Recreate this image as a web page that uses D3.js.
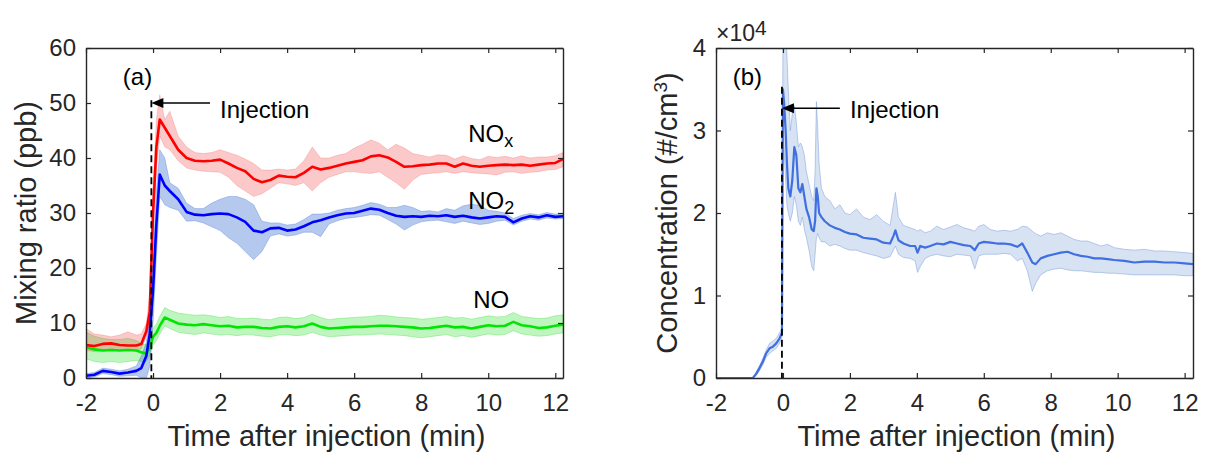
<!DOCTYPE html>
<html>
<head>
<meta charset="utf-8">
<script src="https://cdn.jsdelivr.net/npm/d3@7"></script>
<style>
  html, body { margin: 0; padding: 0; background: #ffffff; }
  svg { display: block; font-family: "Liberation Sans", Arial, Helvetica, sans-serif; }
</style>
</head>
<body>
<svg id="chart" width="1205" height="452"></svg>
<script>
// ---------------- Panel (a) data: mixing ratios (ppb) ----------------
const timeA = [-2, -1.75, -1.5, -1.25, -1, -0.75, -0.5, -0.35, -0.2, -0.1, 0, 0.1, 0.2, 0.35, 0.5, 0.75,
  1, 1.25, 1.5, 1.75, 2, 2.25, 2.5, 2.75, 3, 3.25, 3.5, 3.75, 4, 4.25, 4.5, 4.75, 5, 5.25, 5.5, 5.75,
  6, 6.25, 6.5, 6.75, 7, 7.25, 7.5, 7.75, 8, 8.25, 8.5, 8.75, 9, 9.25, 9.5, 9.75, 10, 10.25, 10.5, 10.75,
  11, 11.25, 11.5, 11.75, 12, 12.23];

const noxMean = [6.0, 5.8, 6.2, 6.3, 6.0, 5.9, 5.9, 6.2, 8.5, 12, 30, 42, 47, 45.5, 44, 41.5,
  40, 39.5, 39.4, 39.5, 39.7, 39.0, 38.2, 37.6, 36.2, 35.6, 36.0, 36.8, 36.6, 36.5, 37.3, 38.4, 37.9, 38.2, 38.6, 39.0,
  39.3, 39.6, 40.3, 40.5, 40.1, 39.3, 38.4, 38.5, 38.7, 38.8, 39.0, 39.0, 38.4, 39.0, 38.6, 38.4, 38.6, 38.7, 38.8, 38.7,
  38.8, 38.6, 38.8, 39.0, 39.1, 39.8];
const noxLow = [5.0, 4.8, 5.0, 5.3, 5.0, 5.0, 5.0, 5.3, 7.5, 10, 26, 38, 44, 42, 41.5, 39.5,
  38.2, 37.8, 37.6, 37.5, 37.4, 36.5, 35, 34, 33, 33.5, 34.5, 35.5, 35.3, 35, 35.5, 34, 35.5, 36.5, 37, 37.5,
  37.5, 37.3, 37.2, 37.5, 36.5, 35.5, 34.3, 36, 37, 37.2, 37.3, 37.5, 37.2, 37.5, 37.3, 37.2, 37.1, 36.9, 37.4, 37.5,
  37.2, 37.4, 37.5, 37.8, 37.9, 38.4];
const noxHigh = [9.0, 8.0, 7.8, 7.5, 7.8, 8.4, 7.8, 8.0, 10, 15, 35, 47, 51.5, 47, 48.5, 44,
  42, 41, 40.8, 41, 41.5, 41, 40.5, 39.8, 39, 37.8, 37.8, 38, 37.8, 38, 39.5, 42, 40, 40, 40.5, 40.8,
  41.8, 42.5, 43.3, 42.7, 41.5, 42.5, 41.8, 40.8, 40.5, 40.2, 40.6, 40.5, 39.8, 40.4, 39.9, 39.7, 40.3, 40.1, 40.3, 40,
  40.4, 40, 40.2, 40.2, 40.4, 41.0];

const no2Mean = [0.4, 0.6, 1.3, 1.1, 0.8, 1.0, 1.3, 1.8, 4, 8, 16, 28, 37, 35, 34, 32.5,
  30.2, 29.7, 29.6, 29.8, 29.9, 29.8, 29.2, 28.4, 26.8, 26.5, 27.2, 27.3, 26.8, 27.0, 27.6, 28.3, 28.7, 29.2, 29.6, 29.9,
  30.0, 30.4, 30.8, 30.6, 30.0, 29.5, 29.3, 29.4, 29.3, 29.5, 29.4, 29.6, 29.3, 29.5, 29.2, 29.0, 29.2, 29.4, 29.3, 28.3,
  29.0, 29.4, 29.2, 29.6, 29.3, 29.4];
const no2Low = [0, 0.2, 0.8, 0.6, 0.3, 0.4, 0.5, 0, 0, 2, 10, 22, 33, 31.5, 31, 30.5,
  28.5, 28.6, 28.2, 27.5, 26.8, 25.5, 24.5, 23, 21.5, 23, 25.8, 26.2, 25.8, 26, 26.5, 26.5, 25.7, 28, 28.6, 29,
  29.2, 29.4, 29.7, 29.6, 28.8, 28, 26.9, 27.8, 28.4, 28.6, 28.7, 28.4, 28.1, 28.5, 28.2, 27.9, 28.1, 28.5, 28.7, 27.8,
  28.5, 28.9, 28.7, 29.1, 28.9, 29.0];
const no2High = [0.8, 1.0, 1.8, 1.6, 1.3, 1.6, 2.2, 4, 6.5, 12, 22, 34, 41.5, 40, 35.5, 34.5,
  31.8, 30.8, 30.8, 31.8, 32.5, 33, 33, 32.5, 31.5, 28.5, 28.2, 28.2, 27.8, 28, 28.8, 29.8, 29.8, 30, 30.5, 30.8,
  31, 31.4, 31.9, 31.6, 31, 31, 31.4, 31, 30.3, 30.4, 30.2, 30.8, 30.5, 31.3, 31.6, 31.4, 30.5, 30.3, 30, 29,
  29.6, 29.9, 29.7, 30.1, 29.8, 29.9];

const noMean = [5.6, 5.2, 5.0, 5.1, 5.0, 5.1, 5.0, 4.7, 4.4, 5.5, 7.5, 8.2, 9.5, 11.0, 10.6, 9.9,
  9.7, 9.6, 9.8, 9.6, 9.4, 9.5, 9.2, 9.3, 9.3, 9.1, 9.0, 9.3, 9.4, 9.2, 9.4, 9.9, 9.3, 9.0, 9.1, 9.2,
  9.3, 9.3, 9.4, 9.5, 9.5, 9.4, 9.3, 9.2, 9.0, 9.1, 9.3, 9.5, 9.2, 9.3, 9.0, 9.3, 9.6, 9.4, 9.5, 10.2,
  9.6, 9.4, 9.1, 9.2, 9.5, 9.7];
const noLow = [3.5, 3.0, 2.8, 3.0, 2.8, 3.0, 3.2, 3.0, 3.0, 4.0, 6.0, 6.8, 8.0, 9.5, 9.0, 8.3,
  8.1, 7.9, 8.2, 8.0, 7.8, 7.9, 7.7, 7.9, 7.8, 7.6, 7.5, 7.8, 7.9, 7.7, 7.8, 8.3, 7.8, 7.5, 7.6, 7.7,
  7.8, 7.8, 7.9, 8.0, 7.9, 7.8, 7.7, 7.5, 7.3, 7.5, 7.7, 7.9, 7.5, 7.7, 7.4, 7.7, 8.0, 7.8, 7.9, 8.6,
  8.0, 7.8, 7.6, 7.7, 8.0, 8.2];
const noHigh = [8.3, 7.6, 7.2, 7.0, 7.0, 7.2, 6.8, 6.3, 6.0, 7.2, 9.0, 9.8, 11.2, 12.8, 12.3, 11.8,
  11.6, 11.4, 11.5, 11.3, 11.0, 11.2, 10.8, 10.8, 10.9, 10.7, 10.6, 11.0, 11.1, 10.8, 11.0, 11.6, 11.0, 10.6, 10.8, 10.9,
  11.0, 11.1, 11.2, 11.4, 11.3, 11.1, 11.0, 10.9, 10.7, 10.8, 11.0, 11.2, 10.9, 11.0, 10.7, 11.0, 11.3, 11.1, 11.2, 11.9,
  11.2, 11.0, 10.8, 10.9, 11.3, 11.5];

const seriesNamesA = ["NO", "NO2", "NOx"];
const xTicksA = [-2, 0, 2, 4, 6, 8, 10, 12];
const yTicksA = [0, 10, 20, 30, 40, 50, 60];

// ---------------- Panel (b) data: particle number concentration (x10^4 #/cm3) ----------------
const timeB = [-2.00, -0.90, -0.80, -0.70, -0.60, -0.50, -0.40, -0.30, -0.20, -0.10, -0.03,
  0.00, 0.04, 0.08, 0.12, 0.16, 0.22, 0.28, 0.34, 0.40, 0.46, 0.52, 0.58, 0.64, 0.70, 0.78, 0.86, 0.92, 0.96,
  1.00, 1.04, 1.08, 1.15, 1.25, 1.40, 1.55, 1.70, 1.85, 2.00, 2.20, 2.40, 2.60, 2.80, 3.00, 3.20, 3.30, 3.36,
  3.45, 3.60, 3.80, 3.95, 4.02, 4.10, 4.25, 4.40, 4.60, 4.80, 5.00, 5.20, 5.40, 5.60, 5.73, 5.85, 6.00, 6.20,
  6.40, 6.60, 6.80, 7.00, 7.15, 7.30, 7.45, 7.55, 7.70, 7.90, 8.10, 8.30, 8.50, 8.70, 8.90, 9.10, 9.30, 9.50,
  9.70, 9.90, 10.20, 10.50, 10.80, 11.10, 11.40, 11.70, 12.00, 12.25];
const pncMean = [0, 0, 0.05, 0.12, 0.2, 0.3, 0.36, 0.38, 0.42, 0.48, 0.55,
  3.5, 3.3, 3.0, 2.6, 2.3, 2.2, 2.4, 2.8, 2.7, 2.3, 2.25, 2.35, 2.2, 2.05, 1.95, 1.8, 1.78, 1.9,
  2.3, 2.2, 2.0, 1.95, 1.9, 1.85, 1.82, 1.8, 1.77, 1.75, 1.74, 1.7, 1.69, 1.68, 1.64, 1.63, 1.72, 1.79,
  1.67, 1.63, 1.6, 1.6, 1.52, 1.6, 1.58, 1.6, 1.63, 1.62, 1.65, 1.63, 1.61, 1.6, 1.55, 1.63, 1.65, 1.64,
  1.63, 1.63, 1.62, 1.59, 1.63, 1.52, 1.4, 1.38, 1.45, 1.48, 1.5, 1.52, 1.53, 1.5, 1.48, 1.47, 1.45, 1.45,
  1.44, 1.43, 1.42, 1.4, 1.41, 1.41, 1.4, 1.4, 1.39, 1.38];
const pncLow = [0, 0, 0.03, 0.09, 0.16, 0.25, 0.3, 0.33, 0.36, 0.42, 0.5,
  3.0, 2.7, 2.4, 2.1, 2.0, 1.9, 2.0, 2.2, 2.1, 1.9, 1.85, 1.95, 1.8, 1.7, 1.55, 1.35, 1.3, 1.5,
  1.7, 1.75, 1.7, 1.65, 1.65, 1.6, 1.62, 1.6, 1.57, 1.55, 1.55, 1.52, 1.5, 1.48, 1.45, 1.47, 1.55, 1.6,
  1.5, 1.46, 1.45, 1.42, 1.28, 1.35, 1.45, 1.48, 1.5, 1.48, 1.47, 1.5, 1.49, 1.48, 1.32, 1.48, 1.5, 1.5,
  1.5, 1.51, 1.5, 1.42, 1.45, 1.3, 1.05, 1.15, 1.25, 1.3, 1.32, 1.33, 1.31, 1.3, 1.3, 1.29, 1.28, 1.28,
  1.27, 1.27, 1.26, 1.25, 1.25, 1.25, 1.25, 1.25, 1.24, 1.24];
const pncHigh = [0, 0, 0.07, 0.15, 0.24, 0.34, 0.42, 0.45, 0.48, 0.55, 0.6,
  4.2, 4.3, 4.3, 3.9, 3.5, 3.0, 3.2, 3.3, 3.1, 2.8, 2.85, 2.8, 2.7, 2.5, 2.35, 2.2, 2.15, 2.5,
  3.35, 3.0, 2.6, 2.3, 2.2, 2.15, 2.05, 2.1, 2.0, 1.98, 2.05, 1.95, 1.92, 1.98, 1.9, 1.85, 2.1, 2.25,
  1.95, 1.85, 1.82, 1.8, 1.78, 1.8, 1.76, 1.78, 1.84, 1.8, 1.83, 1.86, 1.82, 1.8, 1.78, 1.84, 1.86, 1.8,
  1.78, 1.79, 1.78, 1.8, 1.84, 1.83, 1.78, 1.75, 1.72, 1.76, 1.74, 1.76, 1.72, 1.68, 1.66, 1.66, 1.63, 1.6,
  1.62, 1.58, 1.56, 1.55, 1.56, 1.54, 1.54, 1.53, 1.52, 1.51];
const xTicksB = [-2, 0, 2, 4, 6, 8, 10, 12];
const yTicksB = [0, 1, 2, 3, 4];

// ---------------- Drawing ----------------
const svg = d3.select("#chart");
const AXIS = "#262626";
const TICK_FS = 24, LABEL_FS = 29, TEXT_FS = 24;

function makePanel(opts) {
  const g = svg.append("g");
  const x = d3.scaleLinear().domain(opts.xDomain).range([opts.left, opts.right]);
  const y = d3.scaleLinear().domain(opts.yDomain).range([opts.bottom, opts.top]);
  const clipId = "clip-" + opts.id;
  svg.append("clipPath").attr("id", clipId).append("rect")
    .attr("x", opts.left).attr("y", opts.top)
    .attr("width", opts.right - opts.left).attr("height", opts.bottom - opts.top);
  const plot = g.append("g").attr("clip-path", `url(#${clipId})`);

  const fmt = d => String(d);
  const ax = g.append("g").attr("transform", `translate(0,${opts.bottom})`)
    .call(d3.axisBottom(x).tickValues(opts.xTicks).tickFormat(fmt).tickSizeInner(-5).tickSizeOuter(0).tickPadding(16));
  const ay = g.append("g").attr("transform", `translate(${opts.left},0)`)
    .call(d3.axisLeft(y).tickValues(opts.yTicks).tickFormat(fmt).tickSizeInner(-5).tickSizeOuter(0).tickPadding(10));
  const at = g.append("g").attr("transform", `translate(0,${opts.top})`)
    .call(d3.axisTop(x).tickValues(opts.xTicks).tickFormat("").tickSizeInner(-5).tickSizeOuter(0));
  const ar = g.append("g").attr("transform", `translate(${opts.right},0)`)
    .call(d3.axisRight(y).tickValues(opts.yTicks).tickFormat("").tickSizeInner(-5).tickSizeOuter(0));
  [ax, ay, at, ar].forEach(a => {
    a.selectAll("path.domain").attr("stroke", AXIS).attr("stroke-width", 1.4);
    a.selectAll(".tick line").attr("stroke", AXIS).attr("stroke-width", 1.2);
    a.selectAll(".tick text").attr("fill", AXIS).style("font-size", TICK_FS + "px")
      .style("font-family", '"Liberation Sans", Arial, sans-serif');
  });
  g.append("text").attr("x", (opts.left + opts.right) / 2 + 2).attr("y", 446)
    .attr("text-anchor", "middle").attr("fill", AXIS).style("font-size", LABEL_FS + "px")
    .text("Time after injection (min)");
  return { g, plot, x, y };
}

function band(plot, x, y, t, lo, hi, fill, edge) {
  const pts = t.map((d, i) => ({ t: d, lo: lo[i], hi: hi[i] }));
  plot.append("path").datum(pts)
    .attr("d", d3.area().x(d => x(d.t)).y0(d => y(d.lo)).y1(d => y(d.hi)))
    .attr("fill", fill).attr("stroke", edge).attr("stroke-width", 1);
}
function line(plot, x, y, t, v, color, w) {
  plot.append("path").datum(t.map((d, i) => ({ t: d, v: v[i] })))
    .attr("d", d3.line().x(d => x(d.t)).y(d => y(d.v)))
    .attr("fill", "none").attr("stroke", color).attr("stroke-width", w)
    .attr("stroke-linejoin", "round");
}
function arrow(g, x1, x2, yv, color) {
  g.append("line").attr("x1", x1).attr("x2", x2 + 10).attr("y1", yv).attr("y2", yv)
    .attr("stroke", color).attr("stroke-width", 1.4);
  g.append("path").attr("d", `M${x2},${yv} L${x2 + 12},${yv - 5} L${x2 + 12},${yv + 5} Z`).attr("fill", color);
}

// ----- Panel (a)
const A = makePanel({ id: "a", left: 86, right: 563, top: 48, bottom: 378,
  xDomain: [-2, 12.23], yDomain: [0, 60], xTicks: xTicksA, yTicks: yTicksA });

band(A.plot, A.x, A.y, timeA, noLow, noHigh, "rgba(0,220,0,0.25)", "rgba(0,210,0,0.25)");
band(A.plot, A.x, A.y, timeA, no2Low, no2High, "rgba(60,110,210,0.38)", "rgba(60,110,210,0.3)");
band(A.plot, A.x, A.y, timeA, noxLow, noxHigh, "rgba(240,60,60,0.28)", "rgba(240,60,60,0.2)");
line(A.plot, A.x, A.y, timeA, noMean, "#00e600", 2.6);
line(A.plot, A.x, A.y, timeA, noxMean, "#ff0000", 2.6);
line(A.plot, A.x, A.y, timeA, no2Mean, "#0000ff", 2.6);

const injA = -0.05;
A.g.append("line").attr("x1", A.x(injA)).attr("x2", A.x(injA)).attr("y1", A.y(50.5)).attr("y2", A.y(0))
  .attr("stroke", "#000").attr("stroke-width", 1.8).attr("stroke-dasharray", "7,4");
arrow(A.g, A.x(1.7), A.x(injA), A.y(50), "#000");
A.g.append("text").attr("x", A.x(2.0)).attr("y", A.y(47.2))
  .style("font-size", TEXT_FS + "px").attr("fill", "#000").text("Injection");
A.g.append("text").attr("x", A.x(-0.9)).attr("y", 85).style("font-size", TEXT_FS + "px")
  .attr("fill", "#000").text("(a)");

const lblA = [
  { name: "NOx", base: "NO", sub: "x", t: 9.4, v: 43.0 },
  { name: "NO2", base: "NO", sub: "2", t: 9.4, v: 30.7 },
  { name: "NO", base: "NO", sub: "", t: 9.55, v: 12.7 }
];
lblA.forEach(l => {
  const tx = A.g.append("text").attr("x", A.x(l.t)).attr("y", A.y(l.v))
    .style("font-size", TEXT_FS + "px").attr("fill", "#000");
  tx.append("tspan").text(l.base);
  if (l.sub) tx.append("tspan").attr("dy", 5).style("font-size", "18px").text(l.sub);
});

A.g.append("text").attr("transform", `translate(36,${(48 + 378) / 2}) rotate(-90)`)
  .attr("text-anchor", "middle").attr("fill", AXIS).style("font-size", LABEL_FS + "px")
  .text("Mixing ratio (ppb)");

// ----- Panel (b)
const B = makePanel({ id: "b", left: 716, right: 1193, top: 48, bottom: 378,
  xDomain: [-2, 12.25], yDomain: [0, 4], xTicks: xTicksB, yTicks: yTicksB });
band(B.plot, B.x, B.y, timeB, pncLow, pncHigh, "rgba(150,180,220,0.38)", "rgba(110,150,215,0.45)");
line(B.plot, B.x, B.y, timeB, pncMean, "#3f6fe0", 2.2);

const injB = -0.03;
B.g.append("line").attr("x1", B.x(injB)).attr("x2", B.x(injB)).attr("y1", B.y(3.53)).attr("y2", B.y(0))
  .attr("stroke", "#000").attr("stroke-width", 1.8).attr("stroke-dasharray", "7,4");
arrow(B.g, B.x(1.7), B.x(injB), B.y(3.27), "#000");
B.g.append("text").attr("x", B.x(2.0)).attr("y", B.y(3.15))
  .style("font-size", TEXT_FS + "px").attr("fill", "#000").text("Injection");
B.g.append("text").attr("x", B.x(-1.5)).attr("y", 85).style("font-size", TEXT_FS + "px")
  .attr("fill", "#000").text("(b)");

const ex = B.g.append("text").attr("x", 716).attr("y", 41).attr("fill", AXIS).style("font-size", "23px");
ex.append("tspan").text("\u00d710");
ex.append("tspan").attr("dy", -6).style("font-size", "21px").text("4");

const yl = B.g.append("text").attr("transform", `translate(677,${(48 + 378) / 2}) rotate(-90)`)
  .attr("text-anchor", "middle").attr("fill", AXIS).style("font-size", LABEL_FS + "px");
yl.append("tspan").text("Concentration (#/cm");
yl.append("tspan").attr("dy", -10).style("font-size", "19px").text("3");
yl.append("tspan").attr("dy", 10).text(")");
</script>
</body>
</html>
